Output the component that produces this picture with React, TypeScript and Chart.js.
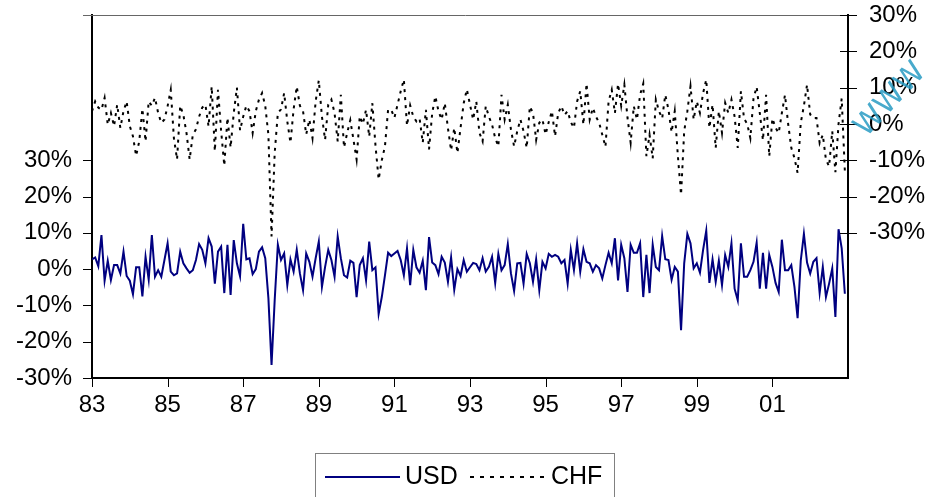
import React, { useEffect, useRef } from 'react';
import { Chart, registerables } from 'chart.js';

Chart.register(...registerables);

const START_YEAR = 1983;
const END_YEAR = 2003;
const TICK_YEARS = [1983, 1985, 1987, 1989, 1991, 1993, 1995, 1997, 1999, 2001];
const TICK_LABELS = ['83', '85', '87', '89', '91', '93', '95', '97', '99', '01'];
const LEFT_TICKS = [-30, -20, -10, 0, 10, 20, 30];
const RIGHT_TICKS = [-30, -20, -10, 0, 10, 20, 30];
const SERIES_NAMES = ['USD', 'CHF'];

// monthly returns (%), 1983:01 - 2002:12
const USD = [
  2.7, 3.2, 0.8, 9.4, -3.2, 2.3, -3.0, 1.1, 1.1, -1.2, 4.8, -1.9,
  -3.2, -6.9, 0.5, 0.5, -7.5, 3.4, -2.9, 9.4, -2.1, -0.3, -2.1, 2.5,
  7.1, -0.7, -1.7, -1.2, 4.8, 1.6, 0.2, -1.0, -0.3, 2.5, 6.9, 5.3,
  1.6, 8.5, 6.2, -4.0, 4.8, 6.2, -6.6, 6.7, -7.1, 8.0, 1.6, -2.0,
  12.5, 2.7, 3.0, -1.4, 0.0, 4.8, 6.0, 3.0, -8.0, -26.4, -8.5, 6.7,
  2.5, 4.3, -4.4, 2.7, -0.7, 5.3, -1.2, -5.8, 4.3, 2.0, -2.1, 3.0,
  7.6, -4.9, 0.6, 5.3, 2.5, -2.1, 9.0, 3.0, -1.7, -2.3, 2.3, 1.7,
  -7.7, 1.1, 3.0, -3.1, 7.6, -0.3, 0.5, -12.3, -7.7, -1.7, 4.5, 3.6,
  4.3, 5.0, 2.5, -1.7, 5.7, -4.4, 5.3, 0.5, -1.0, 2.3, -5.8, 8.8,
  1.8, 1.1, -1.4, 3.4, 1.8, -3.5, 3.2, -5.7, 0.0, -1.9, 2.5, -0.7,
  0.5, 1.7, 1.4, -0.3, 3.0, -0.7, 0.6, 3.4, -3.8, 4.2, -0.3, 1.1,
  6.9, -1.2, -6.0, 1.6, 1.7, -4.0, 4.2, 1.6, -3.5, 2.7, -5.8, 2.0,
  0.2, 4.2, 3.4, 3.9, 3.4, 1.6, 2.5, -4.0, 5.3, -0.3, 7.1, -0.7,
  5.5, 2.0, 1.6, -0.7, 1.1, 0.2, -2.6, 1.1, 4.5, 1.6, 8.5, -3.1,
  6.7, 3.0, -6.3, 6.7, 4.5, 4.5, 7.1, -7.7, 3.9, -6.6, 6.7, 0.6,
  -0.3, 9.1, 2.7, 2.5, -2.9, 0.6, -0.7, -16.8, 1.6, 9.7, 7.1, 0.2,
  1.6, -1.0, 5.3, 10.6, -3.8, 2.7, -3.5, 2.3, -4.4, 3.9, 0.6, 7.1,
  -5.4, -8.6, 7.1, -2.1, -2.1, -0.3, 2.0, 7.3, -5.4, 4.5, -5.4, 3.9,
  0.6, -3.8, -6.3, 8.1, -0.3, -0.3, 1.1, -4.9, -13.5, 2.3, 9.7, 1.8,
  -1.2, 2.0, 3.0, -6.6, 0.6, -7.7, -4.0, 0.2, -13.2, 11.0, 5.7, -6.8,
];

const CHF = [
  3.5, 6.2, 4.5, 3.9, 7.2, -0.2, 3.0, -0.6, 5.3, -1.1, 3.5, 6.2,
  -0.6, -3.4, -8.8, -4.8, 4.2, -4.8, 6.2, 5.0, 7.2, 3.0, 0.3, 1.2,
  4.9, 9.4, -3.9, -9.8, 5.0, 2.5, -2.5, -9.8, -3.0, -1.5, 2.0, 4.5,
  5.3, -0.7, 10.3, -7.5, 9.4, -2.0, -11.5, 1.7, -6.5, 3.0, 10.0, -1.8,
  2.0, 5.0, 3.5, -2.5, 3.5, 6.7, 8.5, 5.0, -3.0, -31.0, -8.0, 3.0,
  4.0, 8.5, 0.7, -5.2, 4.0, 10.3, 5.0, 3.5, -2.9, 1.2, -3.9, 6.2,
  12.0, 2.0, -4.4, 5.3, 6.7, 3.0, -4.8, 8.0, -6.5, -2.5, 1.0, -4.3,
  -9.8, 2.1, 0.0, 3.9, -3.5, 5.7, -6.0, -15.3, -10.0, -6.2, 3.9, 3.9,
  1.7, 5.3, 9.0, 12.2, -0.5, 5.1, 2.0, 0.7, 1.5, -5.2, 3.9, -7.0,
  3.0, 7.6, 3.5, 1.2, 5.7, -1.2, -7.3, -1.1, -8.0, -1.1, 5.7, 9.5,
  5.3, 1.2, 6.2, -2.5, -4.8, 4.9, 2.0, -0.2, -3.9, -6.2, 8.0, 1.2,
  5.3, -1.6, -6.2, -2.0, 1.2, -2.0, -6.6, 4.8, 3.0, -4.4, 0.3, 1.2,
  -2.9, 0.5, 3.5, -3.4, 3.0, 4.9, 2.5, 3.5, 0.5, -1.1, 6.2, 9.0,
  -0.2, 11.1, 1.2, 4.4, 2.0, 0.3, -3.0, -6.3, 6.2, 9.4, 3.0, 11.0,
  5.0, 10.8, 1.7, -5.2, 4.9, 1.2, 8.0, 11.1, -8.9, -3.0, -9.5, 6.7,
  3.5, 1.5, 8.0, 4.0, -2.3, 3.5, -8.9, -19.5, -2.0, 3.5, 10.4, 1.2,
  6.2, 3.0, 8.5, 12.2, -1.1, 5.3, -6.6, 3.5, -2.5, 5.8, 3.0, 6.7,
  2.0, -6.6, 9.0, 1.5, 0.0, -3.9, 7.0, 10.2, 3.0, -4.5, 8.0, -8.9,
  1.5, -1.1, -2.5, 3.0, 8.0, 0.0, -6.6, -9.4, -13.5, 0.3, 5.0, 10.8,
  2.6, 1.6, 1.6, -5.3, -3.0, -9.9, -11.7, -2.0, -13.3, 0.0, 7.0, -13.0,
];

const FONT = '"Liberation Sans", Arial, sans-serif';

export default function App() {
  const ref = useRef<HTMLCanvasElement>(null);

  useEffect(() => {
    document.body.style.margin = '0';
    const canvas = ref.current;
    if (!canvas) return;
    const toPoints = (arr: number[]) =>
      arr.map((v, i) => ({ x: START_YEAR + i / 12, y: v }));

    const deco = {
      id: 'deco',
      afterDraw(chart: any) {
        const ctx = chart.ctx as CanvasRenderingContext2D;
        const area = chart.chartArea;
        const xs = chart.scales.x;
        const yl = chart.scales.y;
        const yr = chart.scales.y1;
        ctx.save();
        // top frame line
        ctx.strokeStyle = '#666';
        ctx.lineWidth = 1;
        ctx.beginPath();
        ctx.moveTo(area.left - 9, Math.round(area.top) + 0.5);
        ctx.lineTo(area.right, Math.round(area.top) + 0.5);
        ctx.stroke();
        // tick marks
        ctx.strokeStyle = '#000';
        ctx.lineWidth = 1;
        ctx.beginPath();
        for (const v of LEFT_TICKS) {
          const y = Math.round(yl.getPixelForValue(v)) + 0.5;
          ctx.moveTo(area.left - 9, y);
          ctx.lineTo(area.left, y);
        }
        for (const v of RIGHT_TICKS) {
          const y = Math.round(yr.getPixelForValue(v)) + 0.5;
          ctx.moveTo(area.right - 8, y);
          ctx.lineTo(area.right + 9, y);
        }
        for (const v of TICK_YEARS) {
          const x = Math.round(xs.getPixelForValue(v)) + 0.5;
          ctx.moveTo(x, area.bottom);
          ctx.lineTo(x, area.bottom + 9);
        }
        ctx.stroke();

        // legend
        ctx.strokeStyle = '#808080';
        ctx.lineWidth = 1;
        ctx.strokeRect(315.5, 453.5, 299, 60);
        ctx.font = `25px ${FONT}`;
        ctx.fillStyle = '#000';
        ctx.textBaseline = 'middle';
        ctx.textAlign = 'left';
        ctx.strokeStyle = '#000080';
        ctx.lineWidth = 2;
        ctx.beginPath();
        ctx.moveTo(325, 477);
        ctx.lineTo(400, 477);
        ctx.stroke();
        ctx.fillText(SERIES_NAMES[0], 405, 477);
        ctx.strokeStyle = '#000';
        ctx.setLineDash([4, 6]);
        ctx.beginPath();
        ctx.moveTo(470, 477);
        ctx.lineTo(549, 477);
        ctx.stroke();
        ctx.setLineDash([]);
        ctx.fillText(SERIES_NAMES[1], 551, 477);

        // watermark
        ctx.translate(866, 138);
        ctx.rotate((-47 * Math.PI) / 180);
        ctx.font = `30px "DejaVu Sans", sans-serif`;
        ctx.fillStyle = 'rgba(40,155,195,0.85)';
        ctx.textBaseline = 'alphabetic';
        ctx.fillText('WWW', 0, 0);
        ctx.restore();
      },
    };

    const tickFont = { family: FONT, size: 24 };
    const noPad = (s: any) => {
      s.paddingTop = 0;
      s.paddingBottom = 0;
    };

    const chart = new Chart(canvas, {
      type: 'line',
      data: {
        datasets: [
          {
            label: SERIES_NAMES[0],
            data: toPoints(USD),
            yAxisID: 'y',
            borderColor: '#000080',
            borderWidth: 2,
            pointRadius: 0,
            fill: false,
            tension: 0,
          },
          {
            label: SERIES_NAMES[1],
            data: toPoints(CHF),
            yAxisID: 'y1',
            borderColor: '#000',
            borderWidth: 2,
            borderDash: [3, 5],
            pointRadius: 0,
            fill: false,
            tension: 0,
          },
        ],
      },
      options: {
        animation: false,
        responsive: false,
        events: [],
        layout: { padding: { top: 15, left: 0, right: 0, bottom: 0 } },
        plugins: { legend: { display: false }, tooltip: { enabled: false } },
        scales: {
          x: {
            type: 'linear',
            min: START_YEAR,
            max: END_YEAR,
            afterBuildTicks: (ax: any) => {
              ax.ticks = TICK_YEARS.map((v) => ({ value: v }));
            },
            afterFit: (s: any) => {
              s.height = 119;
              s.paddingLeft = 0;
              s.paddingRight = 0;
            },
            ticks: {
              callback: (v: any) => {
                const k = TICK_YEARS.indexOf(Number(v));
                return k >= 0 ? TICK_LABELS[k] : '';
              },
              font: tickFont,
              color: '#000',
              padding: 13,
              maxRotation: 0,
              autoSkip: false,
            },
            grid: { drawOnChartArea: false, drawTicks: false },
            border: { display: true, color: '#000', width: 2 },
          },
          y: {
            position: 'left',
            min: -30,
            max: 70,
            afterBuildTicks: (ax: any) => {
              ax.ticks = LEFT_TICKS.map((v) => ({ value: v }));
            },
            afterFit: (s: any) => {
              s.width = 92;
              noPad(s);
            },
            ticks: {
              callback: (v: any) => `${v}%`,
              font: tickFont,
              color: '#000',
              padding: 20,
            },
            grid: { drawOnChartArea: false, drawTicks: false },
            border: { display: true, color: '#000', width: 2 },
          },
          y1: {
            position: 'right',
            min: -70,
            max: 30,
            afterBuildTicks: (ax: any) => {
              ax.ticks = RIGHT_TICKS.map((v) => ({ value: v }));
            },
            afterFit: (s: any) => {
              s.width = 83;
              noPad(s);
            },
            ticks: {
              callback: (v: any) => `${v}%`,
              font: tickFont,
              color: '#000',
              padding: 21,
            },
            grid: { drawOnChartArea: false, drawTicks: false },
            border: { display: true, color: '#000', width: 2 },
          },
        },
      },
      plugins: [deco],
    });
    return () => chart.destroy();
  }, []);

  return (
    <div style={{ position: 'relative', width: 931, height: 497 }}>
      <canvas ref={ref} width={931} height={497} style={{ display: 'block' }} />
    </div>
  );
}
